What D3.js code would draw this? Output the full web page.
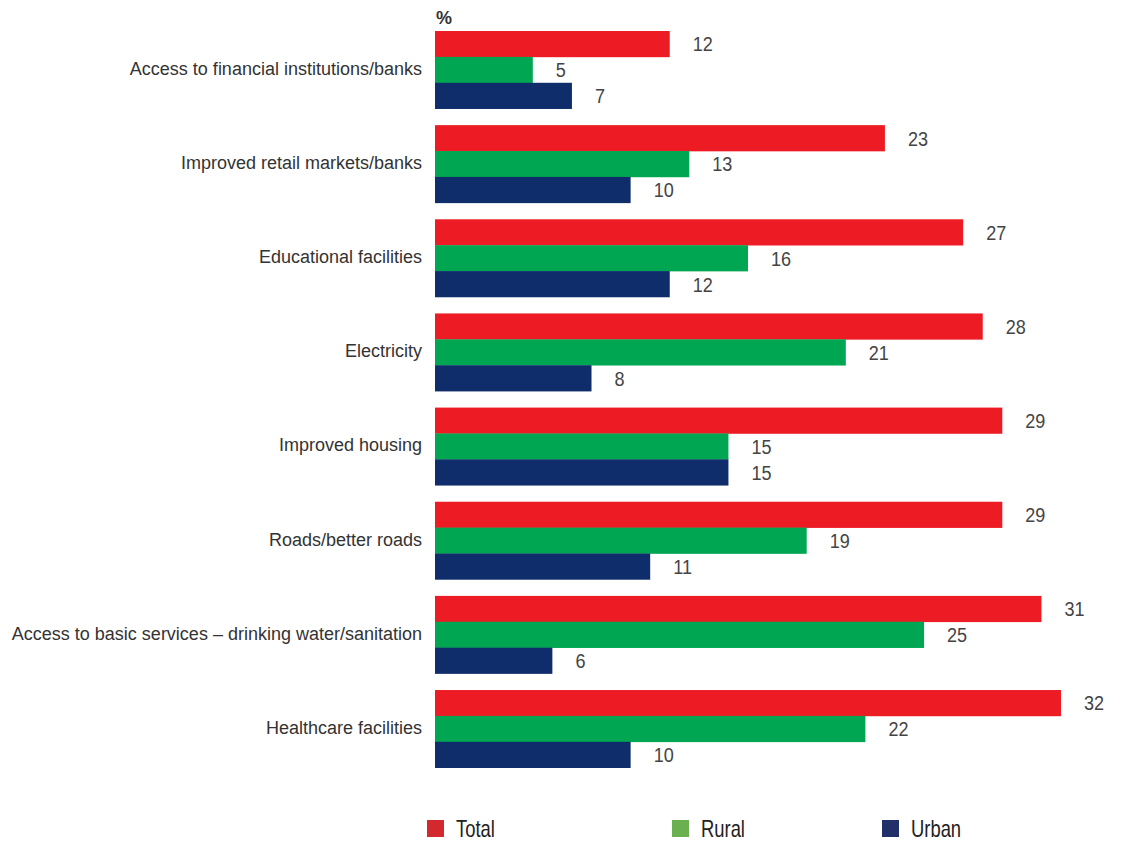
<!DOCTYPE html>
<html>
<head>
<meta charset="utf-8">
<script src="https://cdn.jsdelivr.net/npm/d3@7"></script>
<style>
  html, body { margin: 0; padding: 0; background: #fff; }
  svg text { font-family: "Liberation Sans", Arial, sans-serif; }
</style>
</head>
<body>
<svg id="chart" width="1121" height="841"></svg>
<script>
// Categories (top to bottom) and values in percent
const categories = [
  "Access to financial institutions/banks",
  "Improved retail markets/banks",
  "Educational facilities",
  "Electricity",
  "Improved housing",
  "Roads/better roads",
  "Access to basic services \u2013 drinking water/sanitation",
  "Healthcare facilities"
];
const seriesNames = ["Total", "Rural", "Urban"];
const totalValues = [12, 23, 27, 28, 29, 29, 31, 32];
const ruralValues = [5, 13, 16, 21, 15, 19, 25, 22];
const urbanValues = [7, 10, 12, 8, 15, 11, 6, 10];
const unitLabel = "%";

const barColors = { Total: "#ED1C24", Rural: "#00A651", Urban: "#0F2D6B" };
const legendColors = { Total: "#D2282E", Rural: "#6AAF50", Urban: "#22306A" };

const seriesValues = { Total: totalValues, Rural: ruralValues, Urban: urbanValues };

const svg = d3.select("#chart");
const x0 = 435;

const x = d3.scaleLinear().domain([0, 32]).range([x0, 1061]);

const y = d3.scaleBand()
  .domain(categories)
  .range([31, 767.7])
  .paddingInner(0.175)
  .paddingOuter(0);

const ySub = d3.scaleBand()
  .domain(seriesNames)
  .range([0, y.bandwidth()])
  .padding(0);

const groups = svg.append("g").selectAll("g")
  .data(categories)
  .join("g")
  .attr("transform", d => `translate(0,${y(d)})`);

groups.each(function(cat, i) {
  const g = d3.select(this);
  const rows = seriesNames.map(s => ({ s, v: seriesValues[s][i] }));
  g.selectAll("rect")
    .data(rows)
    .join("rect")
    .attr("x", x(0))
    .attr("y", d => ySub(d.s))
    .attr("width", d => x(d.v) - x(0))
    .attr("height", ySub.bandwidth() + 0.3)
    .attr("fill", d => barColors[d.s]);

  // value labels, slightly condensed
  g.selectAll("text.val")
    .data(rows)
    .join("text")
    .attr("class", "val")
    .attr("transform", d => `translate(${x(d.v) + 23},${ySub(d.s) + ySub.bandwidth() / 2 + 7.5}) scale(0.88,1)`)
    .attr("font-size", 20.5)
    .attr("fill", "#444")
    .text(d => d.v);

  g.append("text")
    .attr("x", 422)
    .attr("y", ySub("Rural") + ySub.bandwidth() / 2 + 5)
    .attr("text-anchor", "end")
    .attr("font-size", 18)
    .attr("fill", "#333")
    .text(cat);
});

svg.append("text")
  .attr("x", x0 + 1)
  .attr("y", 24)
  .attr("font-size", 18)
  .attr("font-weight", "bold")
  .attr("fill", "#333")
  .text(unitLabel);

// Legend
const legendX = { Total: 427, Rural: 672, Urban: 882 };
const legend = svg.append("g").selectAll("g")
  .data(seriesNames)
  .join("g")
  .attr("transform", d => `translate(${legendX[d]},820)`);
legend.append("rect")
  .attr("width", 17).attr("height", 17)
  .attr("fill", d => legendColors[d]);
legend.append("text")
  .attr("transform", "translate(29,17) scale(0.8,1)")
  .attr("font-size", 23)
  .attr("fill", "#222")
  .text(d => d);
</script>
</body>
</html>
